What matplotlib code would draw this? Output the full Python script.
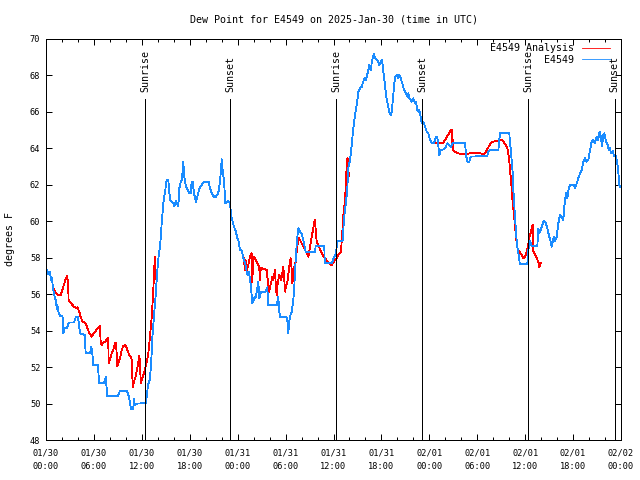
import numpy as np
import pandas as pd
import matplotlib
matplotlib.use("Agg")
import matplotlib.pyplot as plt
import matplotlib.dates as mdates
import matplotlib.transforms as mtransforms

# observed dew point (E4549), hours since 2025-01-30 00:00 UTC
obs_hours = [0.00, 0.31, 0.50, 0.63, 0.75, 0.88, 1.06, 1.25, 1.34, 1.44, 1.50, 1.75, 2.07, 2.17, 2.34, 2.59,
             2.88, 3.51, 3.72, 4.01, 4.26, 4.85, 4.97, 5.51, 5.67, 5.80, 5.92, 6.51, 6.64, 7.26, 7.48, 7.68,
             9.02, 9.27, 10.11, 10.39, 10.64, 10.93, 11.02, 11.11, 11.40, 12.48, 12.61, 12.77, 13.02, 13.19,
             13.31, 13.52, 13.74, 13.94, 14.15, 14.28, 14.49, 14.69, 14.90, 15.11, 15.31, 15.53, 15.74, 15.94,
             16.07, 16.28, 16.44, 16.57, 16.69, 16.87, 16.99, 17.12, 17.19, 17.32, 17.53, 17.74, 17.94, 18.12,
             18.24, 18.37, 18.53, 18.78, 18.95, 19.20, 19.50, 19.78, 20.37, 20.54, 20.75, 20.95, 21.16, 21.45,
             21.66, 21.88, 22.00, 22.13, 22.29, 22.45, 22.63, 22.83, 23.04, 23.17, 23.38, 23.54, 23.75, 23.95,
             24.08, 24.29, 24.51, 24.71, 24.92, 25.04, 25.13, 25.26, 25.42, 25.55, 25.67, 25.83, 26.08, 26.26,
             26.46, 26.58, 26.71, 26.92, 27.51, 27.71, 27.84, 28.89, 29.09, 29.18, 29.30, 30.14, 30.27, 30.34,
             30.43, 30.55, 30.77, 30.97, 31.09, 31.18, 31.31, 31.43, 31.59, 31.81, 32.02, 32.15, 32.31, 32.52,
             33.69, 33.77, 34.85, 34.90, 35.78, 36.10, 36.31, 36.48, 37.15, 37.32, 37.57, 37.73, 37.85, 38.07,
             38.28, 38.48, 38.69, 38.91, 39.11, 39.32, 39.53, 39.73, 39.86, 40.03, 40.16, 40.36, 40.48, 40.66,
             40.78, 40.91, 41.07, 41.20, 41.41, 41.61, 41.74, 41.91, 42.04, 42.16, 42.24, 42.45, 42.57, 42.74,
             42.86, 42.99, 43.16, 43.29, 43.41, 43.58, 43.70, 43.91, 44.11, 44.24, 44.42, 44.54, 44.67, 44.83,
             45.08, 45.24, 45.37, 45.49, 45.67, 45.79, 45.99, 46.21, 46.33, 46.49, 46.62, 46.74, 46.92, 47.05,
             47.25, 47.46, 47.67, 47.87, 48.09, 48.30, 48.59, 48.80, 49.00, 49.12, 49.25, 49.42, 49.84, 50.05,
             50.25, 50.50, 50.71, 50.93, 51.63, 51.84, 52.47, 52.59, 52.76, 53.01, 53.18, 55.26, 55.38, 55.60,
             56.64, 56.85, 58.01, 58.10, 58.19, 58.31, 58.44, 58.52, 58.64, 58.73, 58.85, 58.94, 59.07, 59.23,
             59.32, 60.27, 60.39, 60.52, 60.61, 60.82, 61.52, 61.65, 61.77, 61.95, 62.20, 62.36, 62.61, 62.77,
             63.02, 63.20, 63.32, 63.45, 63.61, 63.74, 63.95, 64.15, 64.36, 64.57, 64.78, 64.86, 64.99, 65.11,
             65.28, 65.49, 65.70, 66.12, 66.24, 66.46, 66.66, 66.87, 67.08, 67.28, 67.49, 67.71, 67.91, 68.12,
             68.33, 68.53, 68.74, 68.96, 69.16, 69.28, 69.37, 69.50, 69.62, 69.79, 69.91, 70.09, 70.21, 70.34,
             70.46, 70.62, 70.75, 70.96, 71.13, 71.29, 71.46, 71.59, 71.71, 71.79, 71.88]
obs_dewpt = [57.45, 57.1, 57.2, 56.8, 56.9, 56.3, 55.9, 55.6, 55.2, 55.4, 55.1, 54.8, 54.8, 53.85, 54.13, 54.13,
             54.45, 54.45, 54.73, 54.73, 53.85, 53.76, 52.76, 52.76, 53.1, 52.76, 52.12, 52.12, 51.11, 51.11,
             51.45, 50.42, 50.42, 50.71, 50.71, 50.38, 49.72, 49.72, 50.25, 49.9, 50.0, 50.02, 50.4, 51.0, 51.35,
             52.4, 53.6, 54.75, 56.0, 57.3, 58.3, 58.6, 59.9, 60.99, 61.6, 62.27, 62.27, 61.17, 61.07, 61.0,
             60.84, 61.13, 60.95, 60.84, 61.8, 62.17, 62.27, 62.8, 63.27, 62.45, 61.9, 61.72, 61.54, 61.54,
             62.17, 62.17, 61.54, 61.07, 61.35, 61.8, 62.0, 62.17, 62.17, 61.8, 61.57, 61.4, 61.3, 61.44, 61.72,
             62.63, 63.4, 62.72, 62.27, 61.0, 61.02, 61.1, 61.0, 60.35, 59.98, 59.7, 59.45, 59.1, 58.97, 58.42,
             58.4, 57.97, 57.7, 57.5, 57.23, 57.05, 57.2, 56.78, 56.4, 55.5, 55.78, 55.86, 56.3, 56.68, 55.78,
             56.1, 56.14, 56.38, 55.4, 55.4, 55.86, 55.13, 54.77, 54.73, 54.4, 53.86, 54.4, 54.77, 55.04, 55.68,
             56.41, 57.23, 58.24, 58.97, 59.61, 59.43, 59.34, 59.07, 58.79, 58.33, 58.33, 58.64, 58.64, 57.7,
             57.7, 58.06, 58.24, 58.9, 58.94, 60.16, 61.07, 61.8, 62.9, 63.36, 64.18, 65.1, 65.83, 66.38, 67.1,
             67.3, 67.38, 67.66, 67.84, 67.75, 67.93, 68.3, 68.57, 68.3, 68.67, 68.94, 69.2, 68.94, 68.85, 68.76,
             68.57, 68.76, 68.85, 68.57, 68.2, 67.48, 66.93, 66.56, 66.29, 66.01, 65.83, 66.0, 66.56, 67.3, 67.93,
             68.03, 67.84, 68.03, 67.84, 67.66, 67.48, 67.2, 67.02, 66.83, 67.02, 66.75, 66.66, 66.56, 66.75,
             66.47, 66.56, 66.1, 66.01, 66.1, 65.74, 65.38, 65.46, 65.19, 64.92, 64.83, 64.46, 64.28, 64.28,
             64.61, 64.61, 64.18, 63.64, 63.9, 63.95, 64.09, 64.28, 64.18, 64.09, 64.28, 64.28, 64.31, 64.31,
             63.64, 63.27, 63.27, 63.55, 63.58, 63.82, 63.9, 63.9, 64.86, 64.86, 64.28, 64.0, 63.36, 62.63, 61.72,
             60.9, 60.16, 59.52, 58.88, 58.42, 58.06, 57.66, 57.66, 58.42, 58.75, 58.94, 58.64, 58.64, 59.61,
             59.34, 59.52, 59.88, 60.03, 59.88, 59.61, 59.15, 58.88, 58.61, 58.88, 59.15, 58.9, 59.15, 59.88,
             60.34, 60.25, 60.07, 60.62, 61.17, 61.54, 61.26, 61.9, 62.0, 62.0, 61.8, 62.08, 62.36, 62.63, 62.8,
             63.27, 63.46, 63.27, 63.36, 63.9, 64.37, 64.46, 64.28, 64.64, 64.46, 64.86, 64.92, 64.55, 64.13,
             64.73, 64.83, 64.46, 64.28, 64.18, 63.9, 64.0, 63.73, 63.87, 63.55, 63.64, 63.36, 63.0, 62.45,
             62.0, 61.9]

# analysis dew point (E4549 Analysis), three pieces with gaps
ana_hours = [0.84, 1.13, 1.54, 1.84, 2.17, 2.50, 2.67, 2.79, 2.83, 3.09, 3.42, 3.76, 3.92, 4.17, 4.35, 4.60,
             4.88, 5.10, 5.30, 5.51, 5.72, 5.92, 6.14, 6.42, 6.64, 6.76, 6.85, 6.97, 7.18, 7.39, 7.60, 7.80,
             7.84, 8.01, 8.23, 8.43, 8.64, 8.77, 8.93, 9.05, 9.27, 9.48, 9.68, 9.89, 10.02, 10.18, 10.43, 10.61,
             10.73, 10.86, 11.02, 11.23, 11.43, 11.56, 11.68, 11.77, 11.86, 11.98, 12.18, 12.40, 12.52, 12.68,
             12.81, 13.02, 13.24, 13.36, 13.44, 13.56, 13.65, 13.74, 13.86,
             np.nan,
             24.71, 24.92, 24.98, 25.13, 25.26, 25.42, 25.55, 25.76, 25.83, 25.96, 26.17, 26.38, 26.58, 26.71,
             26.80, 26.89, 27.09, 27.34, 27.64, 27.76, 27.84, 27.92, 28.17, 28.34, 28.46, 28.68, 28.80, 28.89,
             29.01, 29.21, 29.43, 29.59, 29.72, 29.84, 29.93, 30.05, 30.27, 30.43, 30.64, 30.77, 30.84, 30.97,
             31.09, 31.27, 31.39, 31.52, 31.68, 31.81, 32.02, 32.22, 32.43, 32.65, 32.85, 33.06, 33.27, 33.47,
             33.60, 33.68, 33.77, 33.90, 34.10, 34.31, 34.52, 34.72, 34.94, 35.15, 35.35, 35.56, 35.78, 35.98,
             36.19, 36.40, 36.60, 36.81, 36.94, 37.03, 37.15, 37.23, 37.35, 37.44, 37.57, 37.65, 37.73, 37.82,
             37.85, 37.90,
             np.nan,
             48.71, 49.75, 49.96, 50.25, 50.50, 50.71, 50.80, 50.82, 50.88, 51.00, 51.22, 51.50, 51.84, 52.18,
             52.59, 53.09, 53.43, 53.85, 54.26, 54.85, 55.10, 55.39, 55.69, 56.01, 56.44, 56.76, 57.06, 57.26,
             57.48, 57.76, 57.89, 58.01, 58.10, 58.23, 58.31, 58.44, 58.60, 58.73, 58.94, 59.07, 59.27, 59.57,
             59.77, 59.98, 60.19, 60.39, 60.52, 60.69, 60.86, 60.94, 60.96, 61.02, 61.23, 61.44, 61.65, 61.77,
             61.95]
ana_dewpt = [56.41, 56.14, 55.96, 55.96, 56.41, 56.87, 57.0, 56.32, 55.68, 55.53, 55.35, 55.23, 55.28, 55.04,
             54.73, 54.49, 54.43, 54.24, 54.0, 53.8, 53.67, 53.82, 53.94, 54.09, 54.22, 54.26, 53.3, 53.2, 53.34,
             53.39, 53.52, 53.58, 52.2, 52.43, 52.76, 52.94, 53.3, 53.34, 52.06, 52.24, 52.48, 52.94, 53.16,
             53.21, 53.16, 52.94, 52.66, 52.57, 52.4, 50.9, 51.2, 51.48, 51.94, 52.3, 52.6, 52.3, 51.1, 51.3,
             51.57, 51.84, 52.17, 52.4, 52.76, 53.67, 54.77, 55.68, 56.23, 57.5, 58.06, 56.96, 56.78,
             np.nan,
             58.15, 57.33, 57.9, 57.23, 57.5, 57.78, 58.06, 58.24, 56.68, 58.06, 57.97, 57.78, 57.6, 57.42, 56.78,
             57.42, 57.42, 57.37, 57.33, 56.78, 56.05, 56.14, 56.6, 56.96, 56.78, 57.33, 56.23, 55.96, 56.6,
             57.05, 56.78, 57.15, 57.5, 56.78, 56.14, 56.41, 56.78, 57.42, 57.97, 57.33, 56.6, 56.96, 57.5,
             57.78, 58.33, 58.79, 59.07, 58.97, 58.79, 58.61, 58.42, 58.24, 58.06, 58.61, 59.15, 59.61, 59.98,
             60.07, 59.52, 58.88, 58.7, 58.46, 58.28, 58.1, 57.97, 57.84, 57.73, 57.66, 57.6, 57.73, 57.88,
             57.97, 58.15, 58.24, 58.33, 58.97, 59.7, 60.3, 60.8, 61.2, 62.17, 63.09, 63.46, 62.4, 63.4, 62.5,
             np.nan,
             64.31, 64.31, 64.46, 64.68, 64.86, 65.0, 65.0, 64.18, 64.73, 63.9, 63.82, 63.76, 63.69, 63.67,
             63.67, 63.73, 63.76, 63.76, 63.73, 63.69, 63.82, 64.06, 64.31, 64.37, 64.4, 64.46, 64.46, 64.37,
             64.22, 64.06, 63.73, 63.36, 62.81, 62.27, 61.72, 60.99, 60.35, 59.7, 58.79, 58.46, 58.33, 58.15,
             57.97, 58.06, 58.33, 58.7, 59.15, 59.37, 59.7, 59.8, 58.61, 58.33, 58.2, 57.97, 57.78, 57.5, 57.7]

# sunrise / sunset, hours since start
sun_hours = [12.43, 23.08, 36.35, 47.12, 60.39, 71.21]
sun_names = ["Sunrise", "Sunset", "Sunrise", "Sunset", "Sunrise", "Sunset"]

start = pd.Timestamp("2025-01-30 00:00")
obs_t = start + pd.to_timedelta(obs_hours, unit="h")
ana_t = start + pd.to_timedelta(ana_hours, unit="h")
sun_t = start + pd.to_timedelta(sun_hours, unit="h")

font = "DejaVu Sans Mono"
text_size = 7.2
tick_size = 6.2
red = "#ff0000"
blue = "#1a8cff"
lw = 0.72  # one pixel at 100 dpi

fig = plt.figure(figsize=(6.4, 4.8), dpi=100)
ax = fig.add_axes([46 / 640, 40 / 480, 575 / 640, 401 / 480])

ax.plot(ana_t, ana_dewpt, color=red, linewidth=0.6, antialiased=False, label="E4549 Analysis")
ax.plot(obs_t, obs_dewpt, color=blue, linewidth=0.6, antialiased=False, label="E4549")

trans = mtransforms.blended_transform_factory(ax.transData, ax.transAxes)
for t, name in zip(sun_t, sun_names):
    ax.axvline(t, ymin=0, ymax=0.85, color="black", linewidth=lw, antialiased=False)
    ax.text(t, 0.868, name, transform=trans, rotation=90, ha="center", va="bottom",
            family=font, fontsize=text_size)

ax.set_xlim(start, start + pd.Timedelta(hours=72))
ax.set_ylim(48, 70)
ax.set_yticks(np.arange(48, 71, 2))
ax.xaxis.set_major_locator(mdates.HourLocator(byhour=range(0, 24, 6)))
ax.xaxis.set_minor_locator(mdates.HourLocator(byhour=range(0, 24, 2)))
ax.xaxis.set_major_formatter(mdates.DateFormatter("%m/%d\n%H:%M"))

ax.tick_params(which="both", direction="in", top=True, right=True, width=lw)
ax.tick_params(which="major", length=4.3)
ax.tick_params(which="minor", length=2.2)
ax.tick_params(axis="x", pad=6, labelsize=tick_size)
ax.tick_params(axis="y", pad=4, labelsize=tick_size)
for lbl in ax.get_xticklabels() + ax.get_yticklabels():
    lbl.set_family(font)
for s in ax.spines.values():
    s.set_linewidth(lw)
    s.set_antialiased(False)

ax.set_title("Dew Point for E4549 on 2025-Jan-30 (time in UTC)", family=font, fontsize=text_size, pad=12)
ax.set_ylabel("degrees F", family=font, fontsize=text_size)
ax.yaxis.set_label_coords(-0.054, 0.5)

leg = ax.legend(loc="upper right", bbox_to_anchor=(0.981, 0.99), frameon=False, markerfirst=False,
                borderpad=0, borderaxespad=0, handlelength=2.8, handletextpad=0.8, labelspacing=0.15,
                prop={"family": font, "size": text_size})

fig.canvas.draw()
for lbl in ax.get_xticklabels():
    lbl.set_linespacing(1.6)
    lbl.set_family(font)

fig.savefig("out.png", dpi=100)
